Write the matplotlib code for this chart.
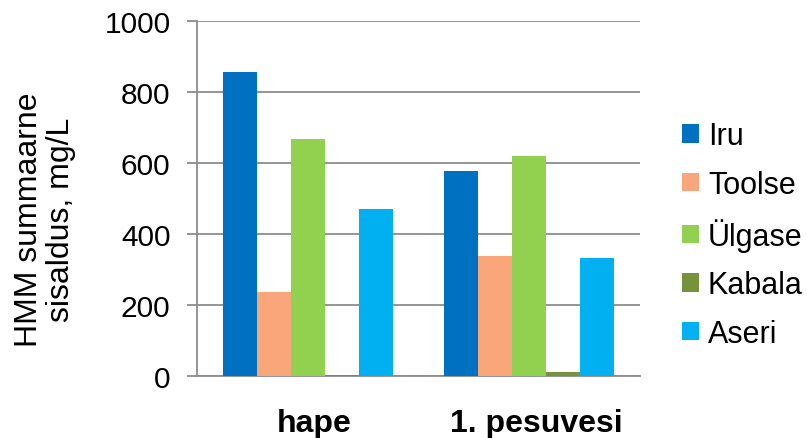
import numpy as np
import matplotlib
matplotlib.use("Agg")
import matplotlib.pyplot as plt

plt.rcParams['font.family'] = ['Liberation Sans', 'DejaVu Sans']

categories = ["hape", "1. pesuvesi"]
series_names = ["Iru", "Toolse", "Ülgase", "Kabala", "Aseri"]
iru = [856, 578]
toolse = [237, 337]
ulgase = [668, 621]
kabala = [3, 12]
aseri = [470, 332]
yticks = [0, 200, 400, 600, 800, 1000]

values = [iru, toolse, ulgase, kabala, aseri]
colors = ["#0070C0", "#F9A77A", "#92D050", "#76933C", "#00B0F0"]
grid_c = "#8C8C8C"

fig = plt.figure(figsize=(8.07, 4.39), dpi=100)
ax = fig.add_axes([197/807, 1 - 377/439, (640-197)/807, (377-22)/439])

n = len(series_names)
bw = 1 / (n + 1.5)
x = np.arange(len(categories))
for i, (name, vals, c) in enumerate(zip(series_names, values, colors)):
    ax.bar(x + (i - (n - 1) / 2) * bw, vals, width=bw, color=c, label=name, zorder=3)

ax.set_xlim(-0.5, len(categories) - 0.5)
ax.set_ylim(0, 1000)
ax.set_yticks(yticks)
ax.set_yticklabels([str(v) for v in yticks], fontsize=21.5)
ax.yaxis.grid(True, color=grid_c, linewidth=1.3, zorder=0)
ax.set_xticks(x + 0.03)
ax.set_xticklabels(categories, fontsize=23, fontweight="bold")
ax.tick_params(axis="x", length=0, pad=23)
ax.tick_params(axis="y", length=7, width=1.3, color=grid_c, pad=12)

for s in ["top", "right"]:
    ax.spines[s].set_visible(False)
for s in ["left", "bottom"]:
    ax.spines[s].set_color(grid_c)
    ax.spines[s].set_linewidth(1.3)

fig.text(45/807, 1 - 220/439, "HMM summaarne\nsisaldus, mg/L", fontsize=23,
         rotation=90, ha="center", va="center", multialignment="center",
         linespacing=1.05)

handles, labels = ax.get_legend_handles_labels()
fig.legend(handles, labels, loc="center left",
           bbox_to_anchor=(682/807, 1 - 236/439), frameon=False,
           fontsize=22, handlelength=0.55, handleheight=0.55, handletextpad=0.3,
           labelspacing=0.6, borderpad=0, borderaxespad=0)

fig.savefig("out.png", dpi=100)
